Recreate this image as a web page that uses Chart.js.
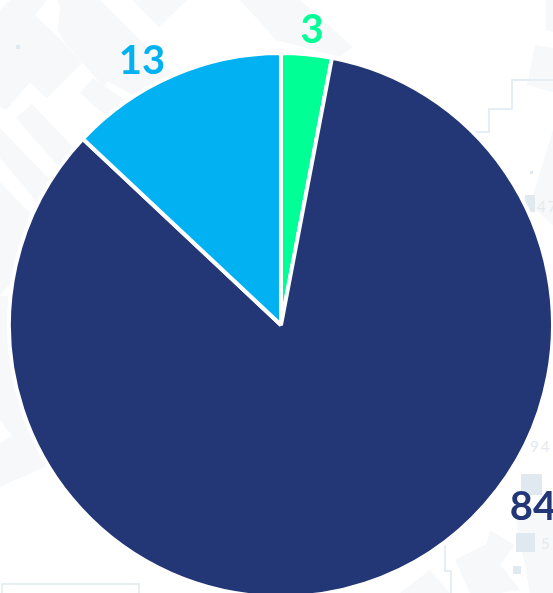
<!DOCTYPE html>
<html>
<head>
<meta charset="utf-8">
<style>
  html, body { margin: 0; padding: 0; background: #fff; overflow: hidden; width: 553px; height: 593px; }
  #wrap { position: relative; width: 553px; height: 593px; overflow: hidden; }
  #bg { position: absolute; left: 0; top: 0; }
  #bg text { font-family: Lato, sans-serif; font-size: 15px; fill: #e4eaef; letter-spacing: 2px; }
  #chart { position: absolute; left: 0; top: 0; }
</style>
<script src="https://cdn.jsdelivr.net/npm/chart.js@4"></script>
</head>
<body>
<div id="wrap">
  <!-- faint map decoration behind the pie -->
  <svg id="bg" width="553" height="593">
    <g fill="#f6f8fa">
      <polygon points="10,0 47,0 35,15 63,42 82,63 47,98 30,82 6,110 0,106 0,10"/>
      <polygon points="58,0 100,0 190,90 133,95 120,88 108,82 103,86 65,43 58,30 60,8"/>
      <polygon points="93,78 80,93 107,117 125,100"/>
      <polygon points="16,118 32,104 73,147 58,166"/>
      <polygon points="0,128 50,180 37,202 0,158"/>
      <polygon points="0,182 30,213 15,277 0,296"/>
      <polygon points="0,296 60,296 60,460 0,487"/>
      <polygon points="133,0 187,0 159,27"/>
      <polygon points="240,0 300,0 353,47 340,57 276,40"/>
      <polygon points="546,0 553,0 553,32 546,30"/>
      <polygon points="535,45 553,48 553,92 527,85"/>
      <polygon points="553,130 530,205 553,225"/>
      <polygon points="455,560 485,545 520,590 500,593 470,593"/>
      <polygon points="490,530 515,545 500,565 485,550"/>
      <polygon points="400,593 430,570 450,593"/>
      <polygon points="515,515 553,500 553,593 530,593"/>
    </g>
    <polygon points="0,420 12,436 0,443" fill="#fff"/>
    <polyline points="475,132 489,132 489,109 512,109 512,80 553,80" fill="none" stroke="#e6eef3" stroke-width="2"/>
    <polyline points="445,545 445,571 451,571 451,593" fill="none" stroke="#e6eef3" stroke-width="2"/>
    <rect x="2" y="584" width="137" height="20" fill="none" stroke="#e8eff3" stroke-width="2"/>
    <g fill="#dfe9ef">
      <rect x="16" y="45" width="4" height="4"/>
      <rect x="525" y="195" width="10" height="17"/>
      <rect x="530" y="171" width="3" height="3"/>
      <rect x="521" y="474" width="21" height="21"/>
      <rect x="516" y="533" width="19" height="19"/>
      <rect x="513" y="566" width="8" height="8"/>
    </g>
    <text x="537" y="212">47</text>
    <text x="530" y="452">94</text>
    <text x="541" y="549">5</text>
  </svg>
  <canvas id="chart" width="560" height="640"></canvas>
</div>
<script>
const categories = ["A", "B", "C"];
const values = [3, 84, 13];
const sliceColors = ["#00ff94", "#233776", "#02b1f2"];

// label spot relative to the pie centre
const labelOffsets = [[31, -295], [252, 182], [-139, -264]];

const valueLabels = {
  id: "valueLabels",
  afterDraw(c) {
    const arcs = c.getDatasetMeta(0).data;
    const ctx = c.ctx;
    ctx.save();
    ctx.font = "bold 40px Lato, sans-serif";
    ctx.textAlign = "center";
    ctx.textBaseline = "middle";
    arcs.forEach((arc, i) => {
      ctx.fillStyle = sliceColors[i];
      ctx.fillText(values[i], arc.x + labelOffsets[i][0], arc.y + labelOffsets[i][1]);
    });
    ctx.restore();
  }
};

new Chart(document.getElementById("chart"), {
  type: "pie",
  data: {
    labels: categories,
    datasets: [{
      data: values,
      backgroundColor: sliceColors,
      borderColor: "#fff",
      borderWidth: 4,
      hoverOffset: 0
    }]
  },
  options: {
    responsive: false,
    animation: false,
    layout: { padding: { left: 7, right: 5, top: 51, bottom: 41 } },
    plugins: {
      legend: { display: false },
      tooltip: { enabled: false }
    }
  },
  plugins: [valueLabels]
});
</script>
</body>
</html>
